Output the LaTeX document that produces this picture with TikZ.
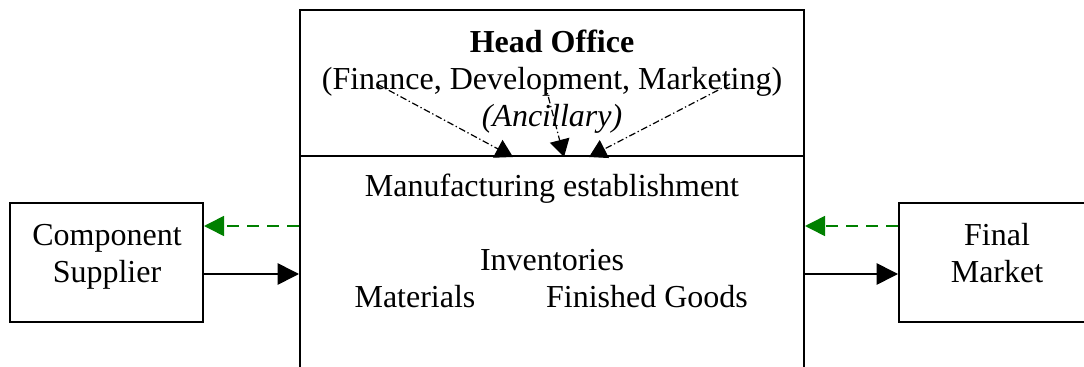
\documentclass[tikz,border=0pt]{standalone}
\usepackage{fontspec}
\setmainfont{Liberation Serif}
\usetikzlibrary{arrows.meta}
\definecolor{infogreen}{RGB}{0,128,0}
\begin{document}
\begin{tikzpicture}[x=0.75pt,y=-0.75pt,
  box/.style={draw,line width=1.5pt,rectangle,inner sep=0pt},
  lbl/.style={font=\fontsize{24}{28}\selectfont,inner sep=0pt,anchor=base},
  flow/.style={line width=1.2pt,-{Triangle[length=16pt,width=16pt]}},
  info/.style={line width=1.2pt,draw=infogreen,dash pattern=on 9pt off 6pt,-{Triangle[length=15pt,width=15pt,fill=infogreen]}},
  anc/.style={line width=0.9pt,dash pattern=on 5pt off 2pt on 1pt off 2pt,-{Triangle[length=13pt,width=15pt]}}
]
\useasboundingbox (0,0) rectangle (1084,367);
\clip (0,0) rectangle (1084,367);
% boxes
\node[box,minimum width=378pt,minimum height=109.5pt] (ho) at (552,83) {};
\node[box,minimum width=378pt,minimum height=198pt] (mfg) at (552,288) {};
\node[box,minimum width=144.75pt,minimum height=89.25pt] (sup) at (106.5,262.5) {};
\node[box,minimum width=144.75pt,minimum height=89.25pt] (mkt) at (995.5,262.5) {};
% texts
\node[lbl] (hot) at (552,53) {\bfseries Head Office};
\node[lbl] (hof) at (552,90) {(Finance, Development, Marketing)};
\node[lbl] (hoa) at (552,127) {\itshape (Ancillary)};
\node[lbl] (mt) at (552,196) {Manufacturing establishment};
\node[lbl] (inv) at (552,270) {Inventories};
\node[lbl] (mat) at (415,307) {Materials};
\node[lbl] (fg) at (647,307) {Finished Goods};
\node[lbl] (sup1) at (107,245) {Component};
\node[lbl] (sup2) at (107,282) {Supplier};
\node[lbl] (mkt1) at (997,245) {Final};
\node[lbl] (mkt2) at (997,282) {Market};
% ancillary arrows
\coordinate (a1) at (377,84);
\coordinate (a2) at (545,84);
\coordinate (a3) at (730,84);
\draw[anc] (a1) -- (ho.south -| 513,0);
\draw[anc] (a2) -- (ho.south -| 564,0);
\draw[anc] (a3) -- (ho.south -| 589,0);
% flows
\draw[info] (mfg.west |- 0,226) -- (sup.east |- 0,226);
\draw[info] (mkt.west |- 0,226) -- (mfg.east |- 0,226);
\draw[flow] (sup.east |- 0,274) -- (mfg.west |- 0,274);
\draw[flow] (mfg.east |- 0,274) -- (mkt.west |- 0,274);
\end{tikzpicture}
\end{document}
